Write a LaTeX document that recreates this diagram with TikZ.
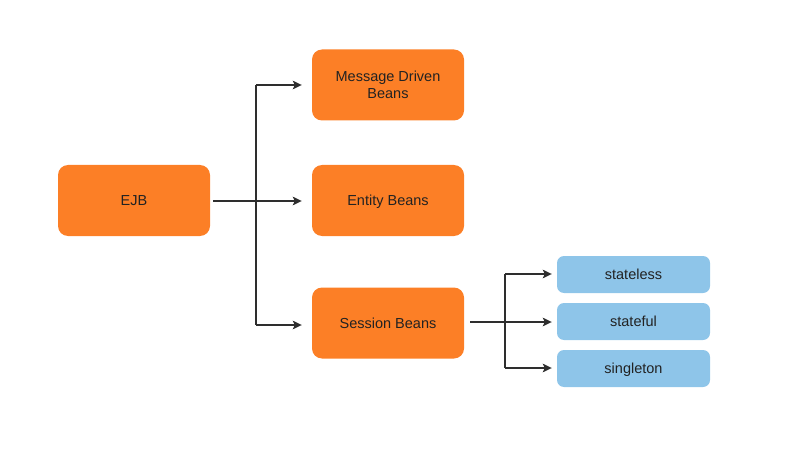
\documentclass[tikz,border=0pt]{standalone}
\usepackage{fontspec}
\setmainfont{Liberation Sans}
\usetikzlibrary{arrows.meta,calc}
\definecolor{orng}{HTML}{FC7F26}
\definecolor{blu}{HTML}{8EC5E9}
\definecolor{txt}{HTML}{222222}
\definecolor{ln}{HTML}{2E2E2E}
\tikzset{
  basebox/.style={draw=none, text=txt, align=center, font=\fontsize{14.5}{17.5}\selectfont},
  obox/.style={basebox, fill=orng, rounded corners=10pt, minimum width=152pt, minimum height=71pt},
  one/.style={text height=10.4pt, text depth=0pt},
  bbox/.style={basebox, one, fill=blu, rounded corners=7pt, minimum width=153pt, minimum height=37pt},
  conn/.style={draw=ln, line width=2.8pt},
  arr/.style={conn, -{Stealth[length=9pt,width=8.5pt,inset=2pt]}}
}
\begin{document}
\begin{tikzpicture}[x=1pt,y=-1pt]
\useasboundingbox (0,0) rectangle (800,449);
\node[obox, one] (ejb) at (134,200.5) {EJB};
\node[obox] (mdb) at (388,85) {Message Driven\\Beans};
\node[obox, one] (ent) at (388,200.5) {Entity Beans};
\node[obox, one] (ses) at (388,323) {Session Beans};
\node[bbox] (sl) at (633.5,274.5) {stateless};
\node[bbox] (sf) at (633.5,321.5) {stateful};
\node[bbox] (sg) at (633.5,368.5) {singleton};
\coordinate (t1) at (256,85);
\coordinate (t2) at (256,325);
\coordinate (tm) at (256,201);
\coordinate (u1) at (505,274);
\coordinate (u2) at (505,368);
\coordinate (um) at (505,322);
\draw[conn] (t1) -- (t2);
\draw[arr] ($(ejb.east |- tm)+(3,0)$) -- ($(ent.west |- tm)+(-10,0)$);
\draw[arr] (t1) -- ($(mdb.west |- t1)+(-10,0)$);
\draw[arr] (t2) -- ($(ses.west |- t2)+(-10,0)$);
\draw[conn] (u1) -- (u2);
\draw[conn] ($(ses.east |- um)+(6,0)$) -- (um);
\draw[arr] (u1) -- ($(sl.west |- u1)+(-5,0)$);
\draw[arr] (um) -- ($(sf.west |- um)+(-5,0)$);
\draw[arr] (u2) -- ($(sg.west |- u2)+(-5,0)$);
\end{tikzpicture}
\end{document}
